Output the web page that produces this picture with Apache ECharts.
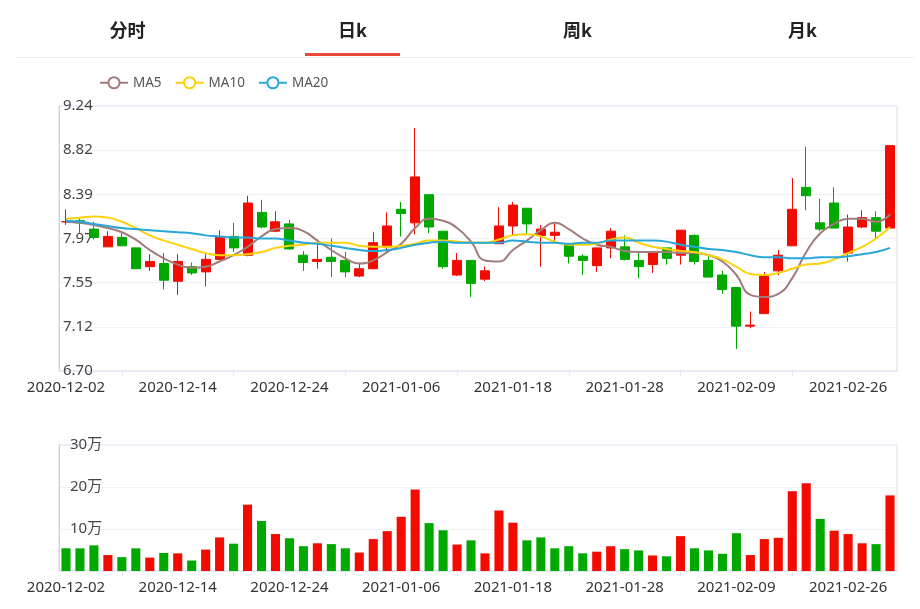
<!DOCTYPE html>
<html>
<head>
<meta charset="utf-8">
<script src="https://cdn.jsdelivr.net/npm/echarts@6/dist/echarts.min.js"></script>
<style>
  html,body{margin:0;padding:0;background:#fff;}
  #wrap{position:relative;width:920px;height:609px;overflow:hidden;}
  #chart{position:absolute;left:0;top:0;width:920px;height:609px;}
  #tabs{position:absolute;left:15px;top:0;width:900px;height:57px;border-bottom:1px solid #ebedf0;z-index:2;display:flex;}
  .tab{flex:1;text-align:center;font-family:"Noto Sans CJK SC","Noto Sans",sans-serif;font-weight:bold;font-size:18px;color:#222;line-height:58px;position:relative;}
  .tab.on::after{content:"";position:absolute;left:50%;margin-left:-48px;width:95px;height:3px;bottom:1px;background:#e84a3c;}
</style>
</head>
<body>
<div id="wrap">
  <div id="chart"></div>
  <div id="tabs"></div>
</div>
<script>
// ---------- data ----------
const tabNames = ['分时', '日k', '周k', '月k'];
const activeTab = 1;

const dates = [
  '2020-12-02','2020-12-03','2020-12-04','2020-12-07','2020-12-08','2020-12-09','2020-12-10','2020-12-11',
  '2020-12-14','2020-12-15','2020-12-16','2020-12-17','2020-12-18','2020-12-21','2020-12-22','2020-12-23',
  '2020-12-24','2020-12-25','2020-12-28','2020-12-29','2020-12-30','2020-12-31','2021-01-04','2021-01-05',
  '2021-01-06','2021-01-07','2021-01-08','2021-01-11','2021-01-12','2021-01-13','2021-01-14','2021-01-15',
  '2021-01-18','2021-01-19','2021-01-20','2021-01-21','2021-01-22','2021-01-25','2021-01-26','2021-01-27',
  '2021-01-28','2021-01-29','2021-02-01','2021-02-02','2021-02-03','2021-02-04','2021-02-05','2021-02-08',
  '2021-02-09','2021-02-10','2021-02-18','2021-02-19','2021-02-22','2021-02-23','2021-02-24','2021-02-25',
  '2021-02-26','2021-03-01','2021-03-02','2021-03-03'
];

const openP  = [8.13,8.14,8.06,7.89,7.98,7.88,7.70,7.73,7.56,7.70,7.65,7.77,7.99,7.81,8.22,8.04,8.11,7.81,7.75,7.79,
                7.76,7.61,7.68,7.89,8.25,8.12,8.39,8.04,7.62,7.76,7.58,7.92,8.09,8.26,8.00,8.00,7.91,7.80,7.71,7.88,
                7.89,7.76,7.72,7.88,7.81,8.00,7.76,7.62,7.50,7.13,7.25,7.66,7.90,8.46,8.12,8.31,7.83,8.08,8.17,8.07];
const closeP = [8.13,8.12,7.98,7.99,7.90,7.68,7.75,7.57,7.75,7.64,7.77,7.99,7.88,8.31,8.08,8.13,7.87,7.74,7.77,7.75,
                7.65,7.68,7.93,8.09,8.21,8.56,8.08,7.70,7.76,7.54,7.66,8.09,8.29,8.11,8.06,8.03,7.80,7.76,7.88,8.04,
                7.77,7.70,7.84,7.78,8.05,7.75,7.60,7.48,7.13,7.14,7.61,7.81,8.25,8.38,8.06,8.07,8.08,8.17,8.04,8.86];
const lowP   = [8.10,8.02,7.96,7.89,7.90,7.68,7.66,7.48,7.43,7.62,7.51,7.76,7.84,7.80,8.07,8.03,7.86,7.66,7.68,7.60,
                7.60,7.60,7.68,7.83,7.99,8.01,8.02,7.68,7.61,7.41,7.56,7.92,8.00,8.01,7.70,7.93,7.73,7.62,7.65,7.78,
                7.76,7.59,7.64,7.72,7.72,7.72,7.60,7.44,6.91,7.11,7.25,7.62,7.90,8.24,8.04,8.07,7.75,8.07,7.96,8.07];
const highP  = [8.25,8.16,8.13,8.04,8.02,7.88,7.82,7.83,7.82,7.74,7.82,8.05,8.12,8.38,8.34,8.23,8.15,7.85,7.96,7.97,
                7.84,7.73,8.03,8.22,8.32,9.03,8.39,8.04,7.83,7.76,7.70,8.27,8.32,8.26,8.10,8.11,7.91,7.82,7.88,8.07,
                8.00,7.84,7.84,7.88,8.05,8.01,7.82,7.66,7.50,7.27,7.65,7.86,8.55,8.85,8.35,8.46,8.20,8.24,8.23,8.86];
const prevClose = 8.15; // close of the day before the first shown day

const volume = [54000,54000,61000,38000,33000,54000,32000,43000,42000,25000,
                51000,80000,65000,158000,119000,88000,78000,59000,66000,64000,
                54000,44000,76000,95000,129000,194000,114000,97000,63000,73000,
                42000,144000,115000,73000,80000,54000,59000,42000,46000,59000,
                52000,49000,37000,35000,83000,54000,49000,41000,90000,38000,
                76000,79000,190000,209000,124000,96000,88000,66000,64000,180000];

const ma5  = [8.13,8.12,8.10,8.07,8.03,7.96,7.86,7.78,7.72,7.69,7.70,7.75,7.81,7.89,7.99,8.06,8.07,8.04,7.95,7.86,
              7.78,7.73,7.76,7.84,7.92,8.07,8.16,8.14,8.07,7.94,7.76,7.75,7.86,7.95,8.05,8.12,8.06,7.97,7.91,7.89,
              7.85,7.84,7.84,7.84,7.83,7.83,7.81,7.75,7.62,7.43,7.41,7.44,7.59,7.84,8.02,8.11,8.16,8.16,8.13,8.20];
const ma10 = [8.16,8.17,8.18,8.17,8.13,8.07,8.00,7.95,7.91,7.87,7.83,7.81,7.81,7.82,7.84,7.88,7.90,7.91,7.93,7.93,
              7.93,7.90,7.89,7.89,7.90,7.92,7.95,7.95,7.94,7.93,7.93,7.96,8.00,8.01,7.99,7.94,7.91,7.91,7.92,7.96,
              7.98,7.93,7.89,7.87,7.85,7.84,7.81,7.77,7.70,7.63,7.62,7.64,7.68,7.72,7.73,7.77,7.83,7.89,7.97,8.08];
const ma20 = [8.14,8.13,8.11,8.09,8.07,8.06,8.05,8.04,8.03,8.02,8.00,7.99,7.98,7.98,7.97,7.97,7.95,7.93,7.92,7.90,
              7.88,7.86,7.85,7.86,7.88,7.91,7.93,7.94,7.93,7.93,7.93,7.93,7.95,7.94,7.93,7.93,7.92,7.93,7.93,7.95,
              7.95,7.95,7.95,7.94,7.91,7.89,7.87,7.86,7.84,7.81,7.79,7.79,7.78,7.78,7.79,7.79,7.80,7.82,7.84,7.88];

const priceMin = 6.70, priceMax = 9.24;
const priceTicks = ['6.70','7.12','7.55','7.97','8.39','8.82','9.24'];
const volMax = 300000, volStep = 100000;
const volTicks = ['', '10万', '20万', '30万'];
const maNames = ['MA5', 'MA10', 'MA20'];

// ---------- tabs ----------
const tabsEl = document.getElementById('tabs');
tabNames.forEach((t, i) => {
  const d = document.createElement('div');
  d.className = 'tab' + (i === activeTab ? ' on' : '');
  d.textContent = t;
  tabsEl.appendChild(d);
});

// ---------- chart ----------
const UP = '#f20c00', DOWN = '#00a800';
const FONT = '"Noto Sans","Noto Sans CJK SC",sans-serif';
const ohlc = dates.map((_, i) => [openP[i], closeP[i], lowP[i], highP[i]]);
const volData = volume.map((v, i) => {
  const pc = i === 0 ? prevClose : closeP[i - 1];
  return { value: v, itemStyle: { color: closeP[i] > pc ? UP : DOWN } };
});

const splitColor = '#eef2fa';
const borderColor = '#d6ddee';
const xAxisCommon = {
  type: 'category',
  data: dates,
  boundaryGap: true,
  axisLine: { lineStyle: { color: '#e3e8f3' } },
  axisTick: { show: true, alignWithLabel: true, interval: (idx) => idx % 8 === 4, length: 5, lineStyle: { color: '#e3e8f3' } },
  axisLabel: { interval: 7, color: '#333', fontSize: 15, fontFamily: FONT, margin: 9 },
  splitLine: { show: false }
};

const chart = echarts.init(document.getElementById('chart'));
chart.setOption({
  animation: false,
  backgroundColor: '#fff',
  legend: {
    data: maNames,
    left: 94, top: 71,
    itemWidth: 28, itemHeight: 14, itemGap: 13,
    textStyle: { color: '#555', fontSize: 13.5, fontFamily: FONT }
  },
  grid: [
    { left: 59, right: 23, top: 106, height: 265, show: true, borderColor: borderColor, borderWidth: 1, backgroundColor: 'transparent' },
    { left: 59, right: 23, top: 445, height: 126, show: true, borderColor: borderColor, borderWidth: 1, backgroundColor: 'transparent' }
  ],
  xAxis: [
    Object.assign({ gridIndex: 0 }, xAxisCommon),
    Object.assign({ gridIndex: 1 }, xAxisCommon)
  ],
  yAxis: [
    { // price scale (hidden)
      type: 'value', gridIndex: 0, min: priceMin, max: priceMax, scale: true,
      axisLine: { show: false }, axisTick: { show: false }, axisLabel: { show: false }, splitLine: { show: false }
    },
    { // price tick helper: 6 equal steps across [priceMin, priceMax]
      type: 'value', gridIndex: 0, min: 0, max: priceTicks.length - 1, interval: 1, position: 'left',
      axisLine: { show: true, lineStyle: { color: '#c9d1e4' } },
      axisTick: { show: false },
      axisLabel: { inside: true, margin: 4, color: '#444', fontSize: 15, fontFamily: FONT,
                   formatter: (v) => priceTicks[Math.round(v)] },
      splitLine: { show: true, lineStyle: { color: splitColor } }
    },
    { // volume
      type: 'value', gridIndex: 1, min: 0, max: volMax, interval: volStep,
      axisLine: { show: true, lineStyle: { color: '#c9d1e4' } },
      axisTick: { show: false },
      axisLabel: { inside: true, margin: 11, color: '#444', fontSize: 15, fontFamily: FONT,
                   formatter: (v) => volTicks[Math.round(v / volStep)] },
      splitLine: { show: true, lineStyle: { color: splitColor } }
    }
  ],
  series: [
    {
      type: 'candlestick', name: 'K', xAxisIndex: 0, yAxisIndex: 0, data: ohlc, barWidth: '68%',
      itemStyle: { color: UP, color0: DOWN, borderColor: UP, borderColor0: DOWN, borderWidth: 1 }
    },
    { type: 'line', name: 'MA5', xAxisIndex: 0, yAxisIndex: 0, data: ma5, smooth: true, showSymbol: false,
      itemStyle: { color: '#a27b7c' }, lineStyle: { width: 2, color: '#a27b7c' } },
    { type: 'line', name: 'MA10', xAxisIndex: 0, yAxisIndex: 0, data: ma10, smooth: true, showSymbol: false,
      itemStyle: { color: '#fdd20a' }, lineStyle: { width: 2, color: '#fdd20a' } },
    { type: 'line', name: 'MA20', xAxisIndex: 0, yAxisIndex: 0, data: ma20, smooth: true, showSymbol: false,
      itemStyle: { color: '#29a7d9' }, lineStyle: { width: 2, color: '#29a7d9' } },
    { type: 'bar', name: 'VOL', xAxisIndex: 1, yAxisIndex: 2, data: volData, barWidth: '65%' }
  ]
});
</script>
</body>
</html>
